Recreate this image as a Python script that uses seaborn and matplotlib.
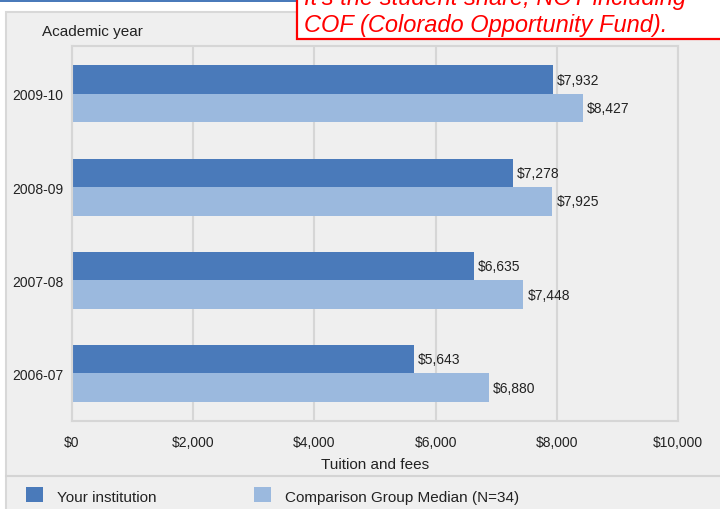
import pandas as pd
import seaborn as sns
import matplotlib.pyplot as plt
from matplotlib.patches import Rectangle
from matplotlib.lines import Line2D

# Data
years = ["2009-10", "2008-09", "2007-08", "2006-07"]
your_institution = [7932, 7278, 6635, 5643]
comparison_median = [8427, 7925, 7448, 6880]
series_names = ["Your institution", "Comparison Group Median (N=34)"]
x_ticks = [0, 2000, 4000, 6000, 8000, 10000]
note_lines = ["It's the student share, NOT including",
              "COF (Colorado Opportunity Fund)."]

DARK = "#4a7aba"
LIGHT = "#9bb9de"
PANEL = "#efefef"
GRID = "#d6d6d6"
TEXT = "#222222"

df = pd.DataFrame({
    "year": years * 2,
    "value": your_institution + comparison_median,
    "group": [series_names[0]] * len(years) + [series_names[1]] * len(years),
})

sns.set_style("white")
plt.rcParams["font.family"] = ["Liberation Sans", "DejaVu Sans"]

fig = plt.figure(figsize=(7.2, 5.1), dpi=100)
W, H = 720, 510


def fx(px):
    return px / W


def fy(py):
    return 1 - py / H


# outer gray panel
fig.patches.append(Rectangle((fx(6), -0.05), 1.1, fy(13) + 0.05, transform=fig.transFigure,
                             facecolor=PANEL, edgecolor="#d8d8d8", lw=1.5, zorder=-2))
# separator above legend
fig.lines.append(Line2D([fx(6), 1], [fy(477), fy(477)], transform=fig.transFigure,
                        color="#d4d4d4", lw=1.5, zorder=-1))

ax = fig.add_axes([fx(72), fy(422), fx(678) - fx(72), fy(47) - fy(422)])
ax.set_facecolor(PANEL)

sns.barplot(data=df, y="year", x="value", hue="group", order=years,
            hue_order=series_names, palette=[DARK, LIGHT], orient="h",
            width=0.612, errorbar=None, legend=False, saturation=1,
            linewidth=0, edgecolor="none", ax=ax)

for cont in ax.containers:
    ax.bar_label(cont, fmt="${:,.0f}", padding=3, fontsize=10, color=TEXT)

ax.set_xlim(0, 10000)
ax.set_ylim(3.51, -0.515)
ax.set_xticks(x_ticks)
ax.set_xticklabels([f"${v:,}" for v in x_ticks])
ax.set_xticks(range(1000, 10000, 2000), minor=True)
ax.tick_params(axis="x", which="major", direction="out", length=5, width=1.5,
               color=GRID, labelsize=10, labelcolor=TEXT, pad=5)
ax.tick_params(axis="x", which="minor", direction="out", length=2.2, width=1.5, color=GRID)
ax.tick_params(axis="y", length=0, labelsize=10, labelcolor=TEXT, pad=6)
ax.grid(axis="x", which="major", color=GRID, lw=1.5)
ax.grid(axis="y", visible=False)
ax.set_axisbelow(True)
for sp in ax.spines.values():
    sp.set_visible(True)
    sp.set_color(GRID)
    sp.set_linewidth(1.5)
ax.set_xlabel("")
ax.set_ylabel("")

fig.text(fx(42), fy(36), "Academic year", fontsize=11, color=TEXT, va="baseline")
fig.text(fx(375), fy(469), "Tuition and fees", fontsize=11, color=TEXT,
         ha="center", va="baseline")

# legend drawn by hand to match positions
for sx, color, name, tx in [(26, DARK, series_names[0], 57), (254, LIGHT, series_names[1], 285)]:
    fig.patches.append(Rectangle((fx(sx), fy(503)), fx(17), fy(488) - fy(503),
                                 transform=fig.transFigure, facecolor=color, edgecolor="none"))
    fig.text(fx(tx), fy(502), name, fontsize=11, color=TEXT, va="baseline")

# blue strip and red note box at top (note is cut off at the top, as in the source)
fig.patches.append(Rectangle((0, fy(2.5)), fx(297), 0.05, transform=fig.transFigure,
                             facecolor=DARK, edgecolor="none", zorder=4))
fig.patches.append(Rectangle((fx(297), fy(40)), 1, 0.2, transform=fig.transFigure,
                             facecolor="white", edgecolor="#ff0000", lw=1.6, zorder=5))
fig.text(fx(304), fy(4.5), note_lines[0], fontsize=17, style="italic", color="#ff0000",
         va="baseline", zorder=6)
fig.text(fx(304), fy(32), note_lines[1], fontsize=17, style="italic", color="#ff0000",
         va="baseline", zorder=6)

fig.savefig("out.png", dpi=100)
